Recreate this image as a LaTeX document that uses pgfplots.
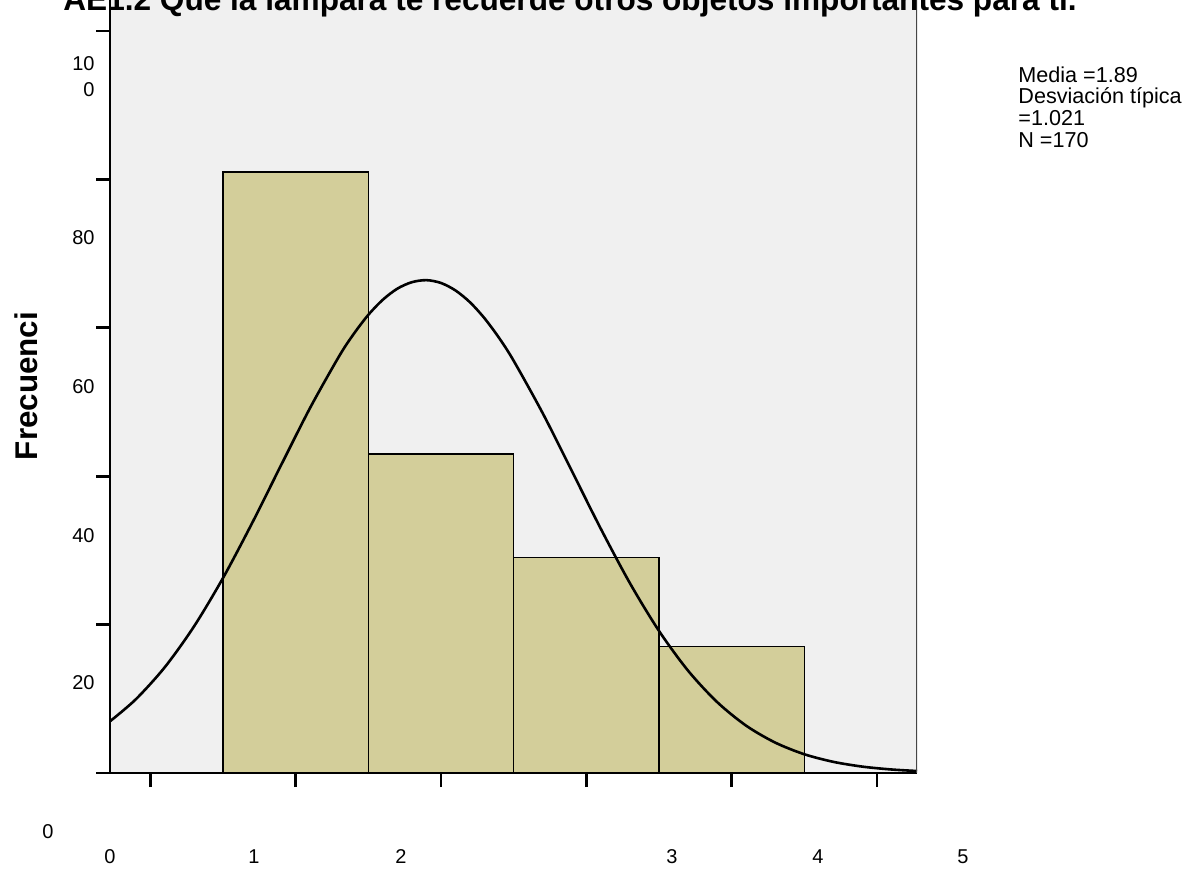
\documentclass[border=0pt]{standalone}
\usepackage{pgfplots}
\pgfplotsset{compat=1.18}
\usepackage{fontspec}
\setmainfont{Liberation Sans}
\definecolor{bgc}{RGB}{240,240,240}
\definecolor{barc}{RGB}{211,206,154}
\definecolor{edgec}{RGB}{70,70,70}
\begin{document}
\begin{tikzpicture}
\begin{axis}[
  at={(55pt,-386.5pt)}, anchor=south west,
  scale only axis, width=403.5pt, height=389.55pt,
  xmin=-0.278, xmax=5.276, ymin=0, ymax=105,
  axis x line*=bottom, axis y line*=left,
  axis line style={-, line width=1.1pt, black},
  axis background/.style={fill=bgc},
  tick align=outside,
  major tick length=7pt,
  tick style={black, line width=1.4pt},
  xtick={0,1,2,3,4,5}, ytick={0,20,40,60,80,100},
  xticklabels={,,,,,}, yticklabels={,,,,,},
]
\addplot[ybar interval, fill=barc, draw=black, line width=0.6pt]
  coordinates {(0.5,81) (1.5,43) (2.5,29) (3.5,17) (4.5,17)};
\addplot[smooth, black, line width=1.3pt, no markers] coordinates {
(-0.278,6.97) (-0.1,9.94) (0.1,14.28) (0.3,19.75) (0.5,26.29) (0.7,33.68)
(0.9,41.51) (1.1,49.24) (1.3,56.21) (1.4,59.19) (1.5,61.75) (1.6,63.79) (1.7,65.28)
(1.8,66.15) (1.9,66.42) (2.0,66.04) (2.1,65.03) (2.2,63.43) (2.3,61.27) (2.4,58.63)
(2.5,55.56) (2.7,48.49) (2.9,40.72) (3.1,32.91)
(3.3,25.59) (3.5,19.16) (3.7,13.80) (3.9,9.57) (4.1,6.38) (4.3,4.10)
(4.5,2.53) (4.7,1.505) (4.9,0.861) (5.1,0.474) (5.276,0.27)};
\draw[edgec, line width=0.7pt] (axis cs:5.276,0) -- (axis cs:5.276,105);
\end{axis}
\begin{scope}[x=0.5pt,y=-0.5pt]
\node[font=\fontsize{15.8}{18}\selectfont\bfseries, anchor=base, inner sep=0pt] at (570,11)
  {AE1.2 Que la lámpara te recuerde otros objetos importantes para ti.};
\node[font=\fontsize{15.7}{18}\selectfont\bfseries, rotate=90, anchor=base, inner sep=0pt] at (37,386) {Frecuenci};
\begin{scope}[every node/.style={font=\fontsize{10}{12}\selectfont, inner sep=0pt}]
\node[anchor=east] at (95,64) {10};
\node[anchor=east] at (95,90) {0};
\node[anchor=east] at (95,238) {80};
\node[anchor=east] at (95,387) {60};
\node[anchor=east] at (95,536) {40};
\node[anchor=east] at (95,683) {20};
\node at (48,832) {0};
\node at (110,857) {0};
\node at (254,857) {1};
\node at (401,857) {2};
\node at (672,857) {3};
\node at (818,857) {4};
\node at (963,857) {5};
\end{scope}
\begin{scope}[every node/.style={font=\fontsize{10.8}{13}\selectfont, inner sep=0pt, anchor=base west}]
\node at (1018,83) {Media =1.89};
\node at (1018,104) {Desviación típica};
\node at (1018,126) {=1.021};
\node at (1018,148) {N =170};
\end{scope}
\pgfresetboundingbox
\useasboundingbox (0,0) rectangle (1193,871);
\end{scope}
\end{tikzpicture}
\end{document}
